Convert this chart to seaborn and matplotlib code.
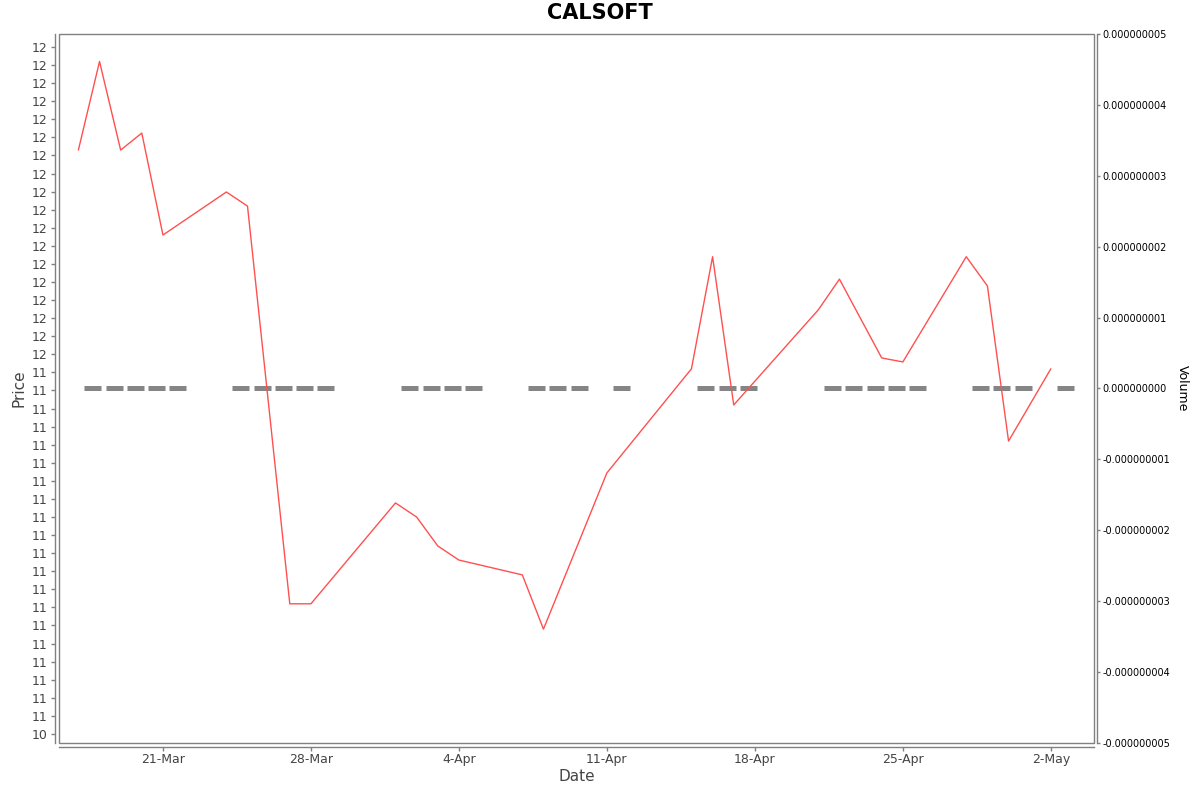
import math
import datetime as dt
import numpy as np
import pandas as pd
import matplotlib
matplotlib.use("Agg")
import matplotlib.pyplot as plt
import matplotlib.dates as mdates
import matplotlib.ticker as mticker
from matplotlib.patches import Rectangle
import seaborn as sns

# ---------------- data ----------------
price_dates = ["2025-03-17", "2025-03-18", "2025-03-19", "2025-03-20", "2025-03-21",
               "2025-03-24", "2025-03-25", "2025-03-27", "2025-03-28",
               "2025-04-01", "2025-04-02", "2025-04-03", "2025-04-04",
               "2025-04-07", "2025-04-08", "2025-04-11",
               "2025-04-15", "2025-04-16", "2025-04-17",
               "2025-04-21", "2025-04-22", "2025-04-24", "2025-04-25",
               "2025-04-28", "2025-04-29", "2025-04-30", "2025-05-02"]
price_values = [12.065, 12.31, 12.065, 12.112, 11.83,
                11.949, 11.91, 10.81, 10.81,
                11.089, 11.05, 10.97, 10.931,
                10.89, 10.74, 11.172,
                11.46, 11.77, 11.36,
                11.623, 11.708, 11.49, 11.479,
                11.77, 11.689, 11.26, 11.46]

volume_dates = ["2025-03-17", "2025-03-18", "2025-03-19", "2025-03-20", "2025-03-21",
                "2025-03-24", "2025-03-25", "2025-03-26", "2025-03-27", "2025-03-28",
                "2025-04-01", "2025-04-02", "2025-04-03", "2025-04-04",
                "2025-04-07", "2025-04-08", "2025-04-09", "2025-04-11",
                "2025-04-15", "2025-04-16", "2025-04-17",
                "2025-04-21", "2025-04-22", "2025-04-23", "2025-04-24", "2025-04-25",
                "2025-04-28", "2025-04-29", "2025-04-30", "2025-05-02"]
volume_values = [0] * len(volume_dates)

title = "CALSOFT"

# ---------------- style ----------------
sns.set_style("white")
plt.rcParams["font.family"] = ["DejaVu Sans"]

TXT = "#444444"
AX = "#808080"

df = pd.DataFrame({"Date": pd.to_datetime(price_dates), "Price": price_values})
vd = pd.to_datetime(volume_dates)

fig = plt.figure(figsize=(12, 7.92), dpi=100)
L, R, T, B = 59, 1094, 34, 743
ax = fig.add_axes([L / 1200, 1 - B / 792, (R - L) / 1200, (B - T) / 792])
ax2 = ax.twinx()
ax.set_zorder(ax2.get_zorder() + 1)
ax.patch.set_visible(False)

# volume (zero bars drawn as short thick segments)
day = pd.Timedelta(days=1)
ax2.hlines(volume_values, mdates.date2num(vd + 0.284 * day), mdates.date2num(vd + 1.088 * day),
           colors="#858585", linewidth=3.6)
ax2.set_ylim(-5e-9, 5e-9)
ax2.yaxis.set_major_locator(mticker.MultipleLocator(1e-9))

def vol_fmt(v, pos):
    if abs(v) < 1e-13:
        v = 0.0
    return f"{v:.9f}"

ax2.yaxis.set_major_formatter(mticker.FuncFormatter(vol_fmt))

# price
sns.lineplot(data=df, x="Date", y="Price", ax=ax, color="#ff5050", linewidth=1.0)

x0 = mdates.date2num(dt.datetime(2025, 3, 16, 2, 0))
x1 = mdates.date2num(dt.datetime(2025, 5, 4, 1, 0))
ax.set_xlim(x0, x1)
ax.set_ylim(10.425, 12.386)
ax.yaxis.set_major_locator(mticker.MultipleLocator(0.05))
ax.yaxis.set_major_formatter(mticker.FuncFormatter(lambda v, p: str(int(math.floor(v + 0.5 + 1e-9)))))
ax.xaxis.set_major_locator(mdates.WeekdayLocator(byweekday=mdates.FR))
ax.xaxis.set_major_formatter(mticker.FuncFormatter(
    lambda v, p: f"{mdates.num2date(v).day}-{mdates.num2date(v).strftime('%b')}"))

for a in (ax, ax2):
    a.xaxis.get_offset_text().set_visible(False)
    a.yaxis.get_offset_text().set_visible(False)

# spines / box
for a in (ax, ax2):
    for s in a.spines.values():
        s.set_visible(False)
ax.add_patch(Rectangle((0, 0), 1, 1, transform=ax.transAxes, fill=False,
                       edgecolor=AX, linewidth=1.0, zorder=5, clip_on=False))
ax.spines["left"].set_visible(True)
ax.spines["left"].set_position(("outward", 3))
ax.spines["bottom"].set_visible(True)
ax.spines["bottom"].set_position(("outward", 3))
ax2.spines["right"].set_visible(True)
ax2.spines["right"].set_position(("outward", 2.5))
for s in (ax.spines["left"], ax.spines["bottom"], ax2.spines["right"]):
    s.set_color(AX)
    s.set_linewidth(1.0)

ax.tick_params(axis="both", which="major", direction="out", length=3, width=1,
               color=AX, labelcolor=TXT, labelsize=9, left=True, bottom=True)
ax.tick_params(axis="y", pad=2)
ax.tick_params(axis="x", pad=1.5)
ax2.tick_params(axis="y", direction="out", length=2.5, width=1, color=AX,
                labelcolor="black", labelsize=7, pad=1, right=True)

ax.set_xlabel("Date", fontsize=11, color=TXT)
ax.set_ylabel("Price", fontsize=11, color=TXT)
ax2.set_ylabel("Volume", fontsize=9, color="black", rotation=270)
ax.xaxis.set_label_coords(0.5, -0.037)
ax.yaxis.set_label_coords(-0.031, 0.5)
ax2.yaxis.set_label_coords(1.092, 0.5)
ax.grid(False)
ax2.grid(False)

fig.suptitle(title, fontsize=15, fontweight="bold", color="black", y=1 - 13 / 792, va="center")

fig.savefig("out.png", dpi=100, facecolor="white")
